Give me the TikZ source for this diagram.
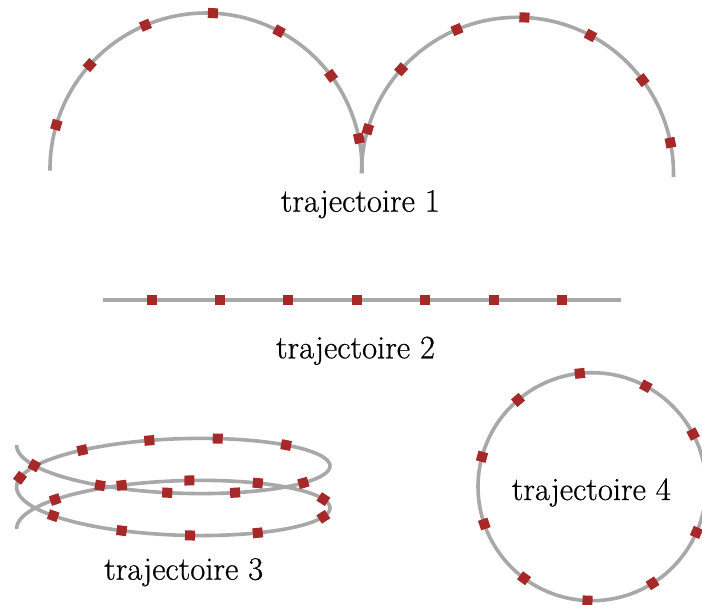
\documentclass[tikz,border=0pt]{standalone}
\usepackage{fontspec}
\setmainfont{Latin Modern Roman}[FakeBold=0.6]
\definecolor{trackgray}{RGB}{168,168,168}
\definecolor{mkred}{RGB}{166,40,40}
\tikzset{
  track/.style={draw=trackgray,line width=2.7pt},
  mk/.style={shape=rectangle,fill=mkred,draw=none,minimum size=7.5pt,inner sep=0pt},
  lbl/.style={font=\fontsize{24.5}{29}\selectfont,anchor=base,inner sep=0pt}
}
\begin{document}
\begin{tikzpicture}[x=0.75pt,y=-0.75pt]
\useasboundingbox (0,0) rectangle (702,605);
% trajectoire 1 : two arcs
\draw[track] (206,169) ++(-180.6:156) arc[start angle=-180.6,end angle=1.5,radius=156];
\draw[track] (517.5,173.3) ++(-180:156) arc[start angle=-180,end angle=1.3,radius=156];
% trajectoire 2 : straight line
\draw[track] (103,300) -- (621,300);
% trajectoire 3 : helix
\draw[track] plot[domain=0:12.566,samples=300,variable=\t]
  ({173.3-156.7*cos(\t r)},{445+6.68*\t+37.5*sin(\t r)});
% trajectoire 4 : circle
\draw[track] (592,486.7) circle[radius=114];

% markers trajectoire 1
\foreach \k in {0,...,6}{
  \pgfmathsetmacro\a{163.6-25.38*\k}
  \pgfmathsetmacro\px{206+156*cos(\a)}
  \pgfmathsetmacro\py{169-156*sin(\a)}
  \node[mk,rotate=\a] (ma\k) at (\px,\py) {};
  \pgfmathsetmacro\qx{517.5+156*cos(\a)}
  \pgfmathsetmacro\qy{173.3-156*sin(\a)}
  \node[mk,rotate=\a] (mb\k) at (\qx,\qy) {};
}
% markers trajectoire 2
\foreach \k in {0,...,6}{
  \pgfmathsetmacro\px{151.5+68.4*\k}
  \node[mk] (mc\k) at (\px,300) {};
}
% markers trajectoire 3
\foreach \t [count=\i] in {0.480,1.084,1.532,1.976,2.55,3.909,4.425,4.866,5.332,6.074,6.981,7.518,7.961,8.423,9.133,9.716,10.426,10.893,11.331,11.850}{
  \pgfmathsetmacro\px{173.3-156.7*cos(\t r)}
  \pgfmathsetmacro\py{445+6.68*\t+37.5*sin(\t r)}
  \pgfmathsetmacro\ang{atan2(-(6.68+37.5*cos(\t r)),156.7*sin(\t r))}
  \node[mk,rotate=\ang] (md\i) at (\px,\py) {};
}
% markers trajectoire 4
\foreach \k in {0,...,9}{
  \pgfmathsetmacro\a{27.5+34.32*\k}
  \pgfmathsetmacro\px{592+114*cos(\a)}
  \pgfmathsetmacro\py{486.7-114*sin(\a)}
  \node[mk,rotate=\a] (me\k) at (\px,\py) {};
}

\node[lbl] (l1) at (360.3,211.7) {trajectoire 1};
\node[lbl] (l2) at (355.5,358.3) {trajectoire 2};
\node[lbl] (l3) at (183.7,579.7) {trajectoire 3};
\node[lbl] (l4) at (591.3,500) {trajectoire 4};
\end{tikzpicture}
\end{document}
